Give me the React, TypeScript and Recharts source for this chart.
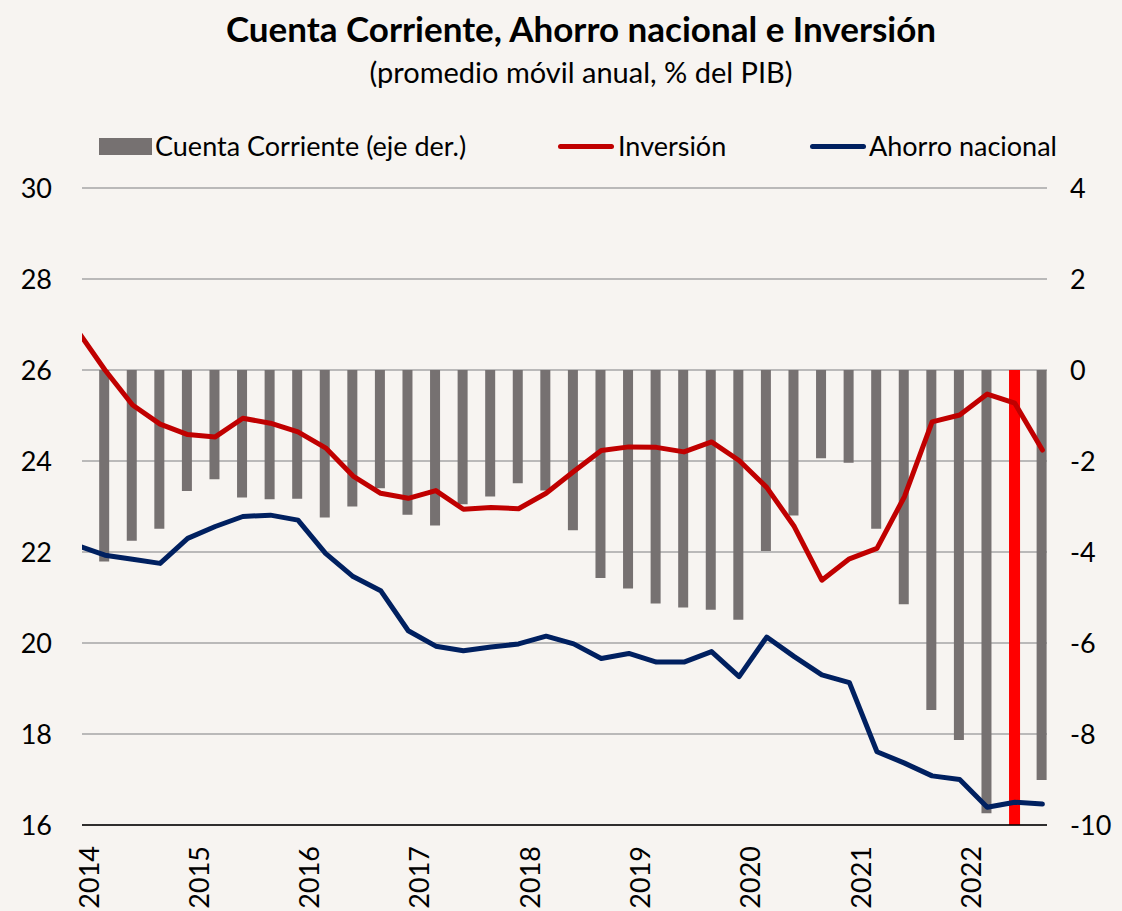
import { ComposedChart, Bar, Line, XAxis, YAxis, CartesianGrid, Legend } from "recharts";

const FUENTE = "Lato, 'Noto Sans', sans-serif";

// trimestres (el primero, 2013-T4, queda fuera del eje y solo se ve recortado)
const trimestres = [
  "2013-T4",
  "2014-T1", "2014-T2", "2014-T3", "2014-T4",
  "2015-T1", "2015-T2", "2015-T3", "2015-T4",
  "2016-T1", "2016-T2", "2016-T3", "2016-T4",
  "2017-T1", "2017-T2", "2017-T3", "2017-T4",
  "2018-T1", "2018-T2", "2018-T3", "2018-T4",
  "2019-T1", "2019-T2", "2019-T3", "2019-T4",
  "2020-T1", "2020-T2", "2020-T3", "2020-T4",
  "2021-T1", "2021-T2", "2021-T3", "2021-T4",
  "2022-T1", "2022-T2", "2022-T3",
];

const inversion = [
  26.87,
  26.0, 25.23, 24.81, 24.58,
  24.53, 24.94, 24.83, 24.64,
  24.29, 23.67, 23.29, 23.18,
  23.35, 22.94, 22.98, 22.95,
  23.29, 23.77, 24.23, 24.31,
  24.3, 24.2, 24.42, 24.01,
  23.42, 22.56, 21.38, 21.85,
  22.08, 23.22, 24.86, 25.01,
  25.47, 25.27, 24.24,
];

const ahorroNacional = [
  22.14,
  21.93, 21.84, 21.75, 22.3,
  22.56, 22.78, 22.81, 22.7,
  21.97, 21.46, 21.15, 20.27,
  19.93, 19.83, 19.91, 19.98,
  20.15, 19.98, 19.66, 19.77,
  19.58, 19.58, 19.81, 19.26,
  20.13, 19.7, 19.3, 19.13,
  17.61, 17.36, 17.08, 17.0,
  16.39, 16.5, 16.46,
];

const cuentaCorriente = [
  null,
  -4.21, -3.75, -3.49, -2.66,
  -2.4, -2.8, -2.84, -2.83,
  -3.24, -3.0, -2.6, -3.18,
  -3.42, -2.95, -2.78, -2.49,
  -2.65, -3.52, -4.57, -4.8,
  -5.13, -5.22, -5.27, -5.49,
  -3.98, -3.2, -1.94, -2.04,
  -3.49, -5.15, -7.47, -8.13,
  -9.74, -9.6, -9.01,
];

// barra roja de referencia (2022-T2)
const marcador = trimestres.map((t) => (t === "2022-T2" ? -10 : null));

const anios = ["2014", "2015", "2016", "2017", "2018", "2019", "2020", "2021", "2022"];
const ticksIzq = [16, 18, 20, 22, 24, 26, 28, 30];
const ticksDer = [-10, -8, -6, -4, -2, 0, 2, 4];

// meses desde enero 2014
const mesTrimestre = (t: string) => {
  const [a, q] = t.split("-T");
  return (Number(a) - 2014) * 12 + (Number(q) - 1) * 3 + 2.5;
};
const mesAnio = (a: string) => (Number(a) - 2014) * 12;

const data = trimestres.map((t, i) => ({
  trimestre: t,
  mes: mesTrimestre(t),
  inversion: inversion[i],
  ahorro: ahorroNacional[i],
  cc: cuentaCorriente[i],
  marca: marcador[i],
}));

function TickAnio(props: any) {
  const { x, y, payload } = props;
  return (
    <text
      transform={`translate(${x + 6},${y + 13}) rotate(-90)`}
      textAnchor="end"
      dominantBaseline="central"
      fontSize={27}
      fontFamily={FUENTE}
      fill="#000"
    >
      {anios[Math.round(payload.value / 12)]}
    </text>
  );
}

function Leyenda() {
  const txt = { position: "absolute" as const, top: 0, fontSize: 27, lineHeight: "30px", fontFamily: FUENTE, color: "#000", whiteSpace: "nowrap" as const };
  return (
    <div style={{ position: "relative", width: 1122, height: 30 }}>
      <div style={{ position: "absolute", left: 99, top: 7, width: 53, height: 17, background: "#767171" }} />
      <div style={{ ...txt, left: 155 }}>Cuenta Corriente (eje der.)</div>
      <div style={{ position: "absolute", left: 558, top: 13, width: 56, height: 5, borderRadius: 3, background: "#C00000" }} />
      <div style={{ ...txt, left: 618 }}>Inversión</div>
      <div style={{ position: "absolute", left: 810, top: 13, width: 56, height: 5, borderRadius: 3, background: "#002060" }} />
      <div style={{ ...txt, left: 869 }}>Ahorro nacional</div>
    </div>
  );
}

export default function App() {
  return (
    <div
      style={{
        position: "absolute",
        left: 0,
        top: 0,
        width: 1122,
        height: 911,
        background: "#F7F4F1",
        fontFamily: FUENTE,
        overflow: "hidden",
      }}
    >
      <div style={{ position: "absolute", top: 8, width: 1122, left: 20, textAlign: "center", fontSize: 35, fontWeight: 700, lineHeight: "40px" }}>
        Cuenta Corriente, Ahorro nacional e Inversión
      </div>
      <div style={{ position: "absolute", top: 55, width: 1122, left: 20, textAlign: "center", fontSize: 29, lineHeight: "34px" }}>
        (promedio móvil anual, % del PIB)
      </div>

      <ComposedChart
        width={1122}
        height={911}
        data={data}
        margin={{ top: 188, right: 0, bottom: 0, left: 0 }}
        barGap={-10}
      >
        <CartesianGrid yAxisId="izq" vertical={false} stroke="#A6A6A6" strokeWidth={1.5} />
        <XAxis
          dataKey="mes"
          type="number"
          domain={[0, 105]}
          ticks={anios.map(mesAnio)}
          interval={0}
          allowDataOverflow
          height={86}
          axisLine={{ stroke: "#000", strokeWidth: 1.5 }}
          tickLine={false}
          tick={<TickAnio />}
        />
        <YAxis
          yAxisId="izq"
          domain={[16, 30]}
          ticks={ticksIzq}
          interval={0}
          width={82}
          axisLine={false}
          tickLine={false}
          tickMargin={24}
          tick={{ fill: "#000", fontSize: 27, fontFamily: FUENTE }}
        />
        <YAxis
          yAxisId="der"
          orientation="right"
          domain={[-10, 4]}
          ticks={ticksDer}
          interval={0}
          width={75}
          axisLine={false}
          tickLine={false}
          tickMargin={17}
          tick={{ fill: "#000", fontSize: 27, fontFamily: FUENTE, textAnchor: "start" }}
        />
        <Legend
          verticalAlign="middle"
          align="center"
          layout="horizontal"
          wrapperStyle={{ top: 131, left: 0, width: 1122 }}
          content={() => <Leyenda />}
        />
        <Bar yAxisId="der" dataKey="cc" name="Cuenta Corriente (eje der.)" fill="#767171" barSize={10} isAnimationActive={false} />
        <Bar yAxisId="der" dataKey="marca" legendType="none" fill="#FF0000" barSize={11} isAnimationActive={false} />
        <Line
          yAxisId="izq"
          dataKey="inversion"
          name="Inversión"
          stroke="#C00000"
          strokeWidth={5}
          strokeLinejoin="round"
          strokeLinecap="round"
          dot={false}
          activeDot={false}
          isAnimationActive={false}
        />
        <Line
          yAxisId="izq"
          dataKey="ahorro"
          name="Ahorro nacional"
          stroke="#002060"
          strokeWidth={5}
          strokeLinejoin="round"
          strokeLinecap="round"
          dot={false}
          activeDot={false}
          isAnimationActive={false}
        />
      </ComposedChart>
    </div>
  );
}
